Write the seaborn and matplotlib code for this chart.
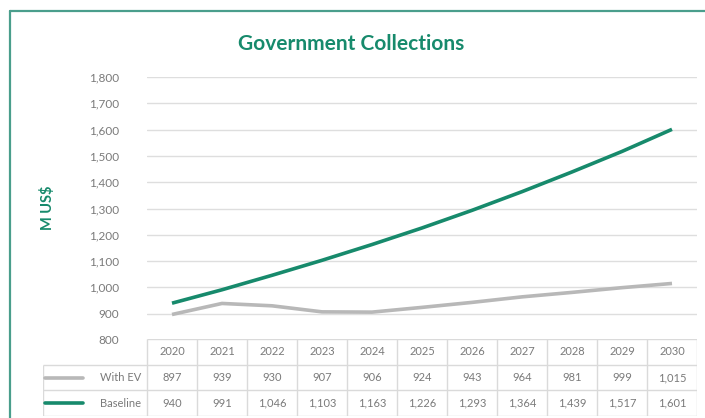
import matplotlib
matplotlib.use("Agg")
import matplotlib.pyplot as plt
import seaborn as sns
import pandas as pd
from matplotlib.lines import Line2D

# Government collections, millions of US$
years = ["2020", "2021", "2022", "2023", "2024", "2025", "2026", "2027", "2028", "2029", "2030"]
with_ev = [897, 939, 930, 907, 906, 924, 943, 964, 981, 999, 1015]
baseline = [940, 991, 1046, 1103, 1163, 1226, 1293, 1364, 1439, 1517, 1601]
series_names = ["With EV", "Baseline"]
y_ticks = [800, 900, 1000, 1100, 1200, 1300, 1400, 1500, 1600, 1700, 1800]

TEAL = "#178a6c"
GREY_LINE = "#b8b8b8"
GRID = "#dedede"
TEXT = "#7a7a7a"
palette = {"With EV": GREY_LINE, "Baseline": TEAL}

sns.set_theme(style="white")
plt.rcParams["font.family"] = ["Lato", "DejaVu Sans"]

W, H = 705, 418
fig = plt.figure(figsize=(W / 100, H / 100), dpi=100)
fig.patch.set_facecolor("white")


def fx(px):
    return px / W


def fy(py):
    return 1 - py / H


# main plot area
ax = fig.add_axes([fx(147), fy(340), fx(697) - fx(147), fy(77) - fy(340)])

df = pd.DataFrame({
    "idx": list(range(len(years))) * 2,
    "value": with_ev + baseline,
    "series": [series_names[0]] * len(years) + [series_names[1]] * len(years),
})
sns.lineplot(data=df, x="idx", y="value", hue="series", palette=palette,
             hue_order=series_names, linewidth=2.6, legend=False, ax=ax)
for ln in ax.get_lines():
    ln.set_solid_capstyle("butt")
    ln.set_solid_joinstyle("round")

ax.set_xlim(-0.5, len(years) - 0.5)
ax.set_ylim(y_ticks[0], y_ticks[-1])
ax.set_yticks(y_ticks)
ax.set_yticklabels([f"{v:,}" for v in y_ticks], color=TEXT, fontsize=8.5)
ax.tick_params(axis="y", length=0, pad=20)
ax.set_xticks([])
ax.set_xlabel("")
ax.set_ylabel("")
ax.yaxis.grid(True, color=GRID, linewidth=1)
ax.set_axisbelow(True)
for s in ax.spines.values():
    s.set_visible(False)

fig.text(fx(351), fy(44), "Government Collections", ha="center", va="center",
         color=TEAL, fontsize=15, fontweight="bold")
fig.text(fx(47), fy(208), "M US$", ha="center", va="center", rotation=90,
         color=TEAL, fontsize=10.5, fontweight="bold")

# data table under the plot
n = len(years)
left_edge = -0.5 - (147 - 43) / 50.0
tax = fig.add_axes([fx(43), fy(416), fx(697) - fx(43), fy(339) - fy(416)])
tax.set_xlim(left_edge, n - 0.5)
tax.set_ylim(3, 0)
tax.axis("off")

tcol = "#dadada"
# horizontal rules
tax.hlines(0, -0.5, n - 0.5, color=tcol, lw=1)
for r in (1, 2, 3):
    tax.hlines(r, left_edge, n - 0.5, color=tcol, lw=1)
# vertical rules
tax.vlines(left_edge, 1, 3, color=tcol, lw=1)
for c in range(n + 1):
    tax.vlines(c - 0.5, 0, 3, color=tcol, lw=1)

for i, yr in enumerate(years):
    tax.text(i, 0.5, yr, ha="center", va="center", color=TEXT, fontsize=8)
for row, vals in enumerate((with_ev, baseline), start=1):
    for i, v in enumerate(vals):
        tax.text(i, row + 0.5, f"{v:,}", ha="center", va="center",
                 color=TEXT, fontsize=8)

# row labels with legend keys
key_x0 = left_edge + 2 / 50.0
key_x1 = left_edge + 40 / 50.0
for row, name in enumerate(series_names, start=1):
    tax.add_line(Line2D([key_x0, key_x1], [row + 0.5, row + 0.5],
                        color=palette[name], lw=2.6))
    tax.text(-0.5 - 6 / 50.0, row + 0.5, name, ha="right", va="center",
             color=TEXT, fontsize=8)

# chart frame (top and left edges)
fig.add_artist(Line2D([fx(10), 1], [fy(11), fy(11)], color="#4a9e8c", lw=1.6))
fig.add_artist(Line2D([fx(10), fx(10)], [fy(11), 0], color="#4a9e8c", lw=1.6))

fig.savefig("out.png", dpi=100, facecolor="white")
